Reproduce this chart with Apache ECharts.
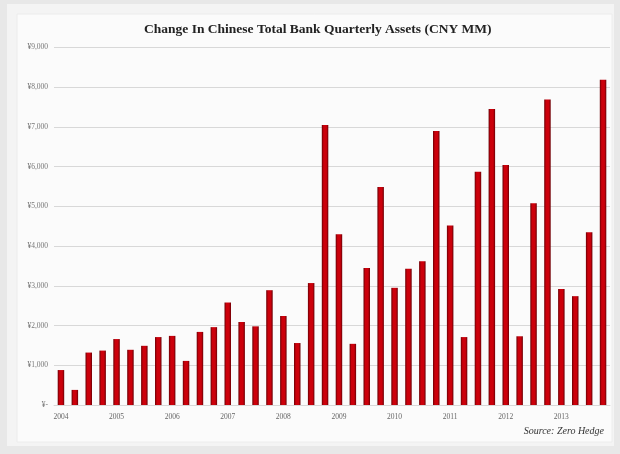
<!DOCTYPE html>
<html>
<head>
<meta charset="utf-8">
<style>
html,body{margin:0;padding:0;background:#e8e8e8;}
#chart{width:620px;height:454px;}
</style>
<script src="https://cdn.jsdelivr.net/npm/echarts@6/dist/echarts.min.js"></script>
</head>
<body>
<div id="chart"></div>
<script>
var years = ['2004','2005','2006','2007','2008','2009','2010','2011','2012','2013'];
var quarters = ['Q1','Q2','Q3','Q4'];
var categories = [];
years.forEach(function(y){ quarters.forEach(function(q){ categories.push(y + ' ' + q); }); });

var assetChange = [
  880, 380, 1320, 1370,
  1660, 1390, 1490, 1710,
  1740, 1110, 1840, 1960,
  2580, 2090, 1980, 2890,
  2240, 1560, 3070, 7050,
  4300, 1540, 3450, 5490,
  2950, 3430, 3620, 6900,
  4520, 1710, 5870, 7450,
  6040, 1730, 5080, 7690,
  2920, 2740, 4350, 8190
];

var yTicks = [0,1000,2000,3000,4000,5000,6000,7000,8000,9000];

var chart = echarts.init(document.getElementById('chart'), null, {renderer:'canvas'});
var serif = '"Liberation Serif", "DejaVu Serif", serif';

chart.setOption({
  backgroundColor: '#e8e8e8',
  animation: false,
  graphic: [
    {type:'rect', z:-10, shape:{x:7,y:4,width:607,height:442}, style:{fill:'#f4f4f4'}},
    {type:'rect', z:-9, shape:{x:17,y:14,width:595,height:428}, style:{fill:'#fbfbfb', stroke:'#ececec', lineWidth:1}},
    {type:'text', left:144, top:23, style:{text:'Change In Chinese Total Bank Quarterly Assets (CNY MM)', font:'bold 13.5px ' + serif, fill:'#222'}},
    {type:'text', right:16, top:426, style:{text:'Source: Zero Hedge', font:'italic 10px ' + serif, fill:'#333'}}
  ],
  grid: {left:54, right:10, top:47.5, bottom:49, containLabel:false},
  xAxis: {
    type:'category',
    data: categories,
    boundaryGap: true,
    axisLine: {show:true, lineStyle:{color:'#d8d8d8'}},
    axisTick: {show:false},
    axisLabel: {
      interval: 3,
      margin: 8,
      color:'#666',
      fontFamily: serif,
      fontSize: 7.5,
      formatter: function(v){ return v.split(' ')[0]; }
    }
  },
  yAxis: {
    type:'value',
    min: yTicks[0],
    max: yTicks[yTicks.length-1],
    interval: 1000,
    axisLine: {show:false},
    axisTick: {show:false},
    splitLine: {lineStyle:{color:'#d8d8d8', width:1}},
    axisLabel: {
      margin: 6,
      color:'#777',
      fontFamily: serif,
      fontSize: 7.5,
      formatter: function(v){
        if (v === 0) return '¥-';
        return '¥' + v.toLocaleString('en-US');
      }
    }
  },
  series: [{
    type:'bar',
    data: assetChange,
    barWidth: 6.5,
    itemStyle: {
      color: new echarts.graphic.LinearGradient(0,0,1,0,[
        {offset:0, color:'#6a0005'},
        {offset:0.3, color:'#cc000b'},
        {offset:0.7, color:'#cc000b'},
        {offset:1, color:'#6a0005'}
      ])
    }
  }]
});
</script>
</body>
</html>
